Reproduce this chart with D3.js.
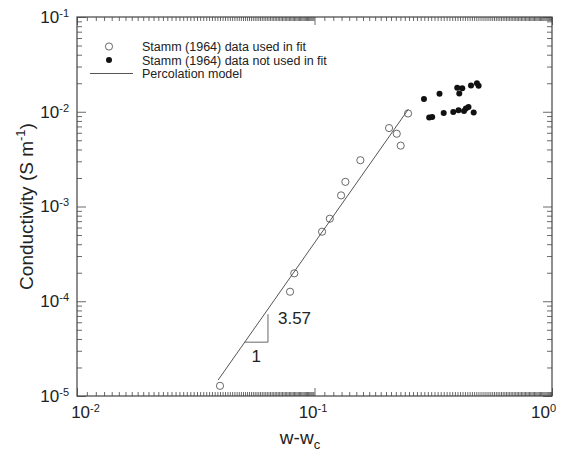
<!DOCTYPE html>
<html>
<head>
<meta charset="utf-8">
<script src="https://cdn.jsdelivr.net/npm/d3@7"></script>
<style>
  body { margin: 0; background: #fff; }
  text { font-family: "Liberation Sans", Arial, Helvetica, sans-serif; fill: #222; }
</style>
</head>
<body>
<svg id="chart"></svg>
<script>
// Stamm (1964) data used in fit
const fitX = [0.040, 0.0789, 0.0822, 0.1076, 0.116, 0.1294, 0.1349, 0.156, 0.206, 0.222, 0.2306, 0.2477];
const fitY = [1.28e-5, 1.26e-4, 1.97e-4, 5.42e-4, 7.43e-4, 1.31e-3, 1.82e-3, 3.08e-3, 6.73e-3, 5.86e-3, 4.39e-3, 9.59e-3];

// Stamm (1964) data not used in fit
const notFitX = [0.289, 0.336, 0.399, 0.419, 0.407, 0.456, 0.483, 0.491, 0.304, 0.313, 0.350, 0.384, 0.404, 0.426, 0.434, 0.445, 0.468];
const notFitY = [1.36e-2, 1.55e-2, 1.79e-2, 1.77e-2, 1.56e-2, 1.89e-2, 2.00e-2, 1.88e-2, 8.71e-3, 8.79e-3, 9.68e-3, 9.93e-3, 1.04e-2, 1.02e-2, 1.08e-2, 1.12e-2, 9.84e-3];

// Percolation model line (end points), slope 3.57
const modelX = [0.0393, 0.248];
const modelY = [1.476e-5, 1.057e-2];

// slope triangle
const triX = [0.0508, 0.0637, 0.0637];
const triY = [3.7e-5, 3.7e-5, 7.3e-5];
const slopeLabel = "3.57";
const runLabel = "1";

const xMajor = [0.01, 0.1, 1];
const yMajor = [1e-5, 1e-4, 1e-3, 1e-2, 1e-1];
const legendLabels = ["Stamm (1964) data used in fit", "Stamm (1964) data not used in fit", "Percolation model"];

const w = 564, h = 457;
const mLeft = 77, mRight = 552, mTop = 17, mBottom = 396;

const svg = d3.select("#chart").attr("width", w).attr("height", h);

const x = d3.scaleLog().domain([0.01, 1]).range([mLeft, mRight]);
const y = d3.scaleLog().domain([1e-5, 0.1]).range([mBottom, mTop]);

// minor ticks
const xMinor = [];
[0.01, 0.1].forEach((b) => {
  for (let k = 11; k < 100; k++) xMinor.push(b * k / 10);
});
const yMinor = [];
[1e-5, 1e-4, 1e-3, 1e-2].forEach((b) => {
  for (let k = 2; k < 10; k++) yMinor.push(b * k);
});

function supText(sel, d) {
  const e = Math.round(Math.log10(d));
  sel.text("");
  sel.append("tspan").text("10");
  sel.append("tspan").attr("dy", "-0.55em").attr("font-size", "11px").text(e);
}

const tickStroke = "#444";

function styleAxis(g) {
  g.select(".domain").remove();
  g.selectAll(".tick line").attr("stroke", tickStroke).attr("stroke-width", 0.8);
}

// bottom
svg.append("g").attr("transform", `translate(0,${mBottom})`)
  .call(d3.axisBottom(x).tickValues(xMinor).tickSizeInner(-4).tickFormat(""))
  .call(styleAxis);
const xLabelShift = [8, -2, -9];
svg.append("g").attr("transform", `translate(0,${mBottom})`)
  .call(d3.axisBottom(x).tickValues(xMajor).tickSizeInner(-8).tickPadding(10))
  .call(styleAxis)
  .call((g) => g.selectAll(".tick text").attr("font-size", "17px").attr("fill", "#222")
    .attr("dx", (d, i) => xLabelShift[i])
    .each(function (d) { supText(d3.select(this), d); }));

// top
svg.append("g").attr("transform", `translate(0,${mTop})`)
  .call(d3.axisTop(x).tickValues(xMinor).tickSizeInner(-4).tickFormat(""))
  .call(styleAxis);
svg.append("g").attr("transform", `translate(0,${mTop})`)
  .call(d3.axisTop(x).tickValues(xMajor).tickSizeInner(-8).tickFormat(""))
  .call(styleAxis);

// left
svg.append("g").attr("transform", `translate(${mLeft},0)`)
  .call(d3.axisLeft(y).tickValues(yMinor).tickSizeInner(-5).tickFormat(""))
  .call(styleAxis);
svg.append("g").attr("transform", `translate(${mLeft},0)`)
  .call(d3.axisLeft(y).tickValues(yMajor).tickSizeInner(-9).tickPadding(8))
  .call(styleAxis)
  .call((g) => g.selectAll(".tick text").attr("font-size", "17px").attr("fill", "#222")
    .each(function (d) { supText(d3.select(this), d); }));

// right
svg.append("g").attr("transform", `translate(${mRight},0)`)
  .call(d3.axisRight(y).tickValues(yMinor).tickSizeInner(-5).tickFormat(""))
  .call(styleAxis);
svg.append("g").attr("transform", `translate(${mRight},0)`)
  .call(d3.axisRight(y).tickValues(yMajor).tickSizeInner(-9).tickFormat(""))
  .call(styleAxis);

// frame
svg.append("rect")
  .attr("x", mLeft).attr("y", mTop)
  .attr("width", mRight - mLeft).attr("height", mBottom - mTop)
  .attr("fill", "none").attr("stroke", "#444").attr("stroke-width", 1.2);

// axis titles
const xt = svg.append("text")
  .attr("x", 300).attr("y", 444)
  .attr("text-anchor", "middle").attr("font-size", "19px");
xt.append("tspan").text("w-w");
xt.append("tspan").attr("dy", "5").attr("font-size", "13px").text("c");

const yt = svg.append("text")
  .attr("transform", `translate(33,${(mTop + mBottom) / 2}) rotate(-90)`)
  .attr("text-anchor", "middle").attr("font-size", "19px");
yt.append("tspan").text("Conductivity (S m");
yt.append("tspan").attr("dy", "-8").attr("font-size", "13px").text("-1");
yt.append("tspan").attr("dy", "8").text(")");

// model line
const modelData = modelX.map((d, i) => [d, modelY[i]]);
svg.append("path")
  .datum(modelData)
  .attr("d", d3.line().x((d) => x(d[0])).y((d) => y(d[1])))
  .attr("fill", "none").attr("stroke", "#555").attr("stroke-width", 1);

// slope triangle
const triData = triX.map((d, i) => [d, triY[i]]);
svg.append("path")
  .datum(triData)
  .attr("d", d3.line().x((d) => x(d[0])).y((d) => y(d[1])))
  .attr("fill", "none").attr("stroke", "#666").attr("stroke-width", 1);

svg.append("text")
  .attr("x", (x(triX[0]) + x(triX[1])) / 2).attr("y", y(triY[0]) + 20)
  .attr("text-anchor", "middle").attr("font-size", "17px").text(runLabel);
svg.append("text")
  .attr("x", x(triX[1]) + 10).attr("y", y(triY[2]) + 10)
  .attr("font-size", "17px").text(slopeLabel);

// points
const fitData = fitX.map((d, i) => ({ x: d, y: fitY[i] }));
const notFitData = notFitX.map((d, i) => ({ x: d, y: notFitY[i] }));

svg.selectAll(".open")
  .data(fitData)
  .enter()
  .append("circle")
  .attr("class", "open")
  .attr("cx", (d) => x(d.x))
  .attr("cy", (d) => y(d.y))
  .attr("r", 3.6)
  .attr("fill", "none")
  .attr("stroke", "#444")
  .attr("stroke-width", 0.8);

svg.selectAll(".filled")
  .data(notFitData)
  .enter()
  .append("circle")
  .attr("class", "filled")
  .attr("cx", (d) => x(d.x))
  .attr("cy", (d) => y(d.y))
  .attr("r", 3)
  .attr("fill", "#111");

// legend
const lg = svg.append("g");
const rowY = [46.5, 60, 73.5];
lg.append("circle").attr("cx", 109).attr("cy", rowY[0]).attr("r", 3.6)
  .attr("fill", "none").attr("stroke", "#444").attr("stroke-width", 0.8);
lg.append("circle").attr("cx", 109).attr("cy", rowY[1]).attr("r", 3).attr("fill", "#111");
lg.append("line").attr("x1", 90).attr("x2", 133).attr("y1", rowY[2]).attr("y2", rowY[2])
  .attr("stroke", "#555").attr("stroke-width", 1);
lg.selectAll("text")
  .data(legendLabels)
  .enter()
  .append("text")
  .attr("x", 142)
  .attr("y", (d, i) => rowY[i] + 4.5)
  .attr("font-size", "12.5px")
  .text((d) => d);
</script>
</body>
</html>
